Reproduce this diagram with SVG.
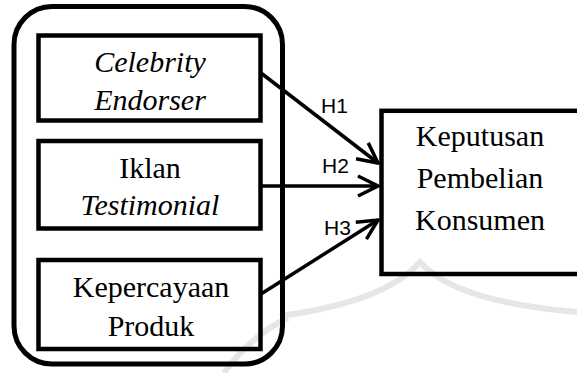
<svg xmlns="http://www.w3.org/2000/svg" width="577" height="373" viewBox="0 0 577 373">
  <style>
    .box { fill: none; stroke: #000; stroke-width: 4.5; }
    .outer { fill: none; stroke: #000; stroke-width: 5; }
    .conn { stroke: #000; stroke-width: 3.5; fill: none; }
    .wm { fill: none; stroke: #e6e6e6; stroke-width: 6; }
    .s { font-family: "Liberation Serif", "Times New Roman", serif; font-size: 30px; text-anchor: middle; fill: #000; }
    .i { font-style: italic; }
    .l { font-family: "Liberation Sans", Arial, sans-serif; font-size: 21px; fill: #000; }
  </style>
  <defs>
    <marker id="arr" markerUnits="userSpaceOnUse" viewBox="-24 -13 26 26" markerWidth="26" markerHeight="26" refX="0" refY="0" orient="auto">
      <path d="M-20,-10 L0,0 L-20,10" fill="none" stroke="#000" stroke-width="3.5" stroke-linejoin="miter"/>
    </marker>
  </defs>
  <rect width="577" height="373" fill="#fff"/>
  <g id="watermark">
    <path class="wm" d="M 280 316 Q 385 302 420 262 Q 455 302 577 312"/>
    <path class="wm" d="M 224 373 Q 250 336 288 318"/>
  </g>
  <g id="group-outer">
    <rect class="outer" x="14" y="6.5" width="268.5" height="357.5" rx="38" ry="38"/>
  </g>
  <g id="node-celebrity">
    <rect class="box" x="38.5" y="35.5" width="222" height="85"/>
    <text class="s i" x="150" y="72">Celebrity</text>
    <text class="s i" x="150" y="110">Endorser</text>
  </g>
  <g id="node-iklan">
    <rect class="box" x="38.5" y="141" width="222" height="87.5"/>
    <text class="s" x="150" y="178">Iklan</text>
    <text class="s i" x="150" y="215">Testimonial</text>
  </g>
  <g id="node-kepercayaan">
    <rect class="box" x="38.5" y="260" width="222" height="89"/>
    <text class="s" x="151" y="297">Kepercayaan</text>
    <text class="s" x="151" y="336">Produk</text>
  </g>
  <g id="node-keputusan">
    <rect class="box" x="381.5" y="110.8" width="210" height="163.2"/>
    <text class="s" x="480" y="146">Keputusan</text>
    <text class="s" x="480" y="188">Pembelian</text>
    <text class="s" x="480" y="230">Konsumen</text>
  </g>
  <g id="labels">
    <text class="l" x="321" y="113">H1</text>
    <text class="l" x="322" y="173">H2</text>
    <text class="l" x="324" y="235">H3</text>
  </g>
  <g id="connectors">
    <line class="conn" x1="261" y1="73" x2="378" y2="163" marker-end="url(#arr)"/>
    <line class="conn" x1="261" y1="186" x2="378" y2="186" marker-end="url(#arr)"/>
    <line class="conn" x1="261" y1="294" x2="378" y2="220" marker-end="url(#arr)"/>
  </g>
</svg>
